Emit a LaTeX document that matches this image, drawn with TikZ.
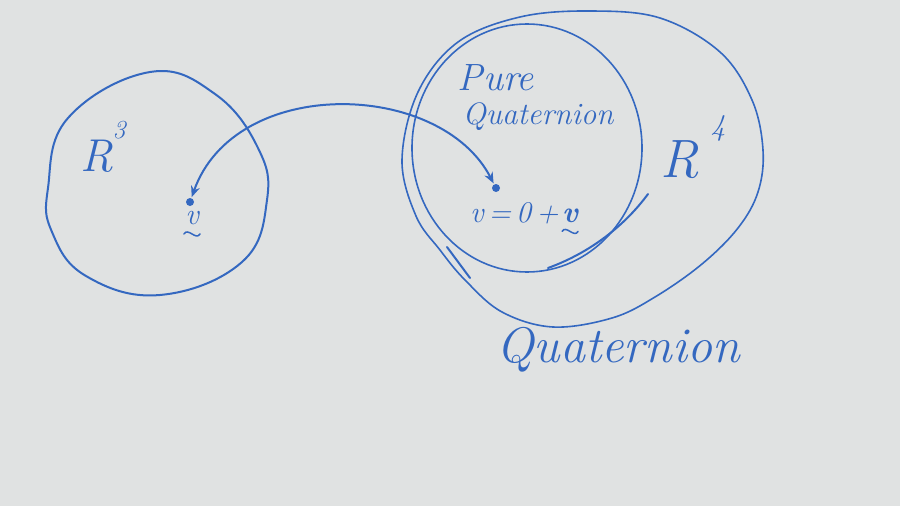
\documentclass[tikz,border=0pt]{standalone}
\usepackage{fontspec}
\usetikzlibrary{arrows.meta,calc}
\definecolor{board}{RGB}{224,226,226}
\definecolor{pen}{RGB}{52,104,192}
\tikzset{
  pen/.style={draw=pen, line width=2pt, line cap=round, line join=round},
  thinpen/.style={draw=pen, line width=1.6pt, line cap=round},
  tildepen/.style={draw=pen, line width=1.5pt, line cap=round},
  dotnode/.style={circle, fill=pen, inner sep=0pt, minimum size=8pt},
  hand/.style={text=pen, inner sep=0pt}
}
\begin{document}
\begin{tikzpicture}[x=1pt,y=-1pt]
\fill[board] (0,0) rectangle (900,506);
\useasboundingbox (0,0) rectangle (900,506);

% R^3 set
\draw[pen] plot[smooth cycle, tension=0.7] coordinates {(48,188) (68,118) (150,72) (215,94) (258,148) (267,200) (242,262) (160,295) (86,276) (52,232)};

% inner circle (pure quaternions)
\draw[thinpen] (527,148) ellipse [x radius=115, y radius=124];

% outer loop (quaternions)
\draw[thinpen] plot[smooth cycle, tension=0.6] coordinates {(402,160) (416,216) (440,250) (465,280) (502,312) (553,327) (612,318) (655,297) (702,264) (738,228) (758,192) (763,150) (752,100) (720,52) (660,18) (590,11) (520,17) (458,42) (418,92)};
\draw[pen] (648,194) .. controls (626,224) and (592,252) .. (548,268);
\draw[pen] (447,247) -- (470,278);

% points and arrow
\node[dotnode] (vL) at (190,202) {};
\node[dotnode] (vR) at (496,188) {};
\draw[pen, {Stealth[length=11pt,width=9pt]}-{Stealth[length=11pt,width=9pt]}, shorten <=1pt, shorten >=1pt]
  (vL) .. controls (235,75) and (440,80) .. (vR);

% labels
\node[hand, font=\fontsize{46}{48}\selectfont\itshape] (r3) at (97,156) {R};
\node[hand, font=\fontsize{26}{28}\selectfont\itshape] (r3e) at (119,130) {3};

\node[hand, font=\fontsize{30}{30}\selectfont\itshape] (vLab) at (192,218) {v};
\draw[tildepen] ($(vLab.south)+(-8,9)$) .. controls ($(vLab.south)+(-4,2)$) and ($(vLab.south)+(4,16)$) .. ($(vLab.south)+(8,9)$);

\node[hand, font=\fontsize{38}{40}\selectfont\itshape] (pure) at (496,78) {Pure};
\node[hand, font=\fontsize{31}{34}\selectfont\itshape] (pq) at (538,117) {Quaternion};

\node[hand, font=\fontsize{30}{30}\selectfont\itshape, anchor=base west] (vEq) at (470,222) {v\,=\,0\,+};
\node[hand, font=\fontsize{30}{30}\selectfont\itshape\bfseries, anchor=base west] (vB) at ($(vEq.base east)+(3,0)$) {v};
\draw[tildepen] ($(vB.south)+(-8,9)$) .. controls ($(vB.south)+(-4,2)$) and ($(vB.south)+(4,16)$) .. ($(vB.south)+(8,9)$);

\node[hand, font=\fontsize{54}{56}\selectfont\itshape] (r4) at (680,160) {R};
\node[hand, font=\fontsize{30}{32}\selectfont\itshape] (r4e) at (718,128) {4};

\node[hand, font=\fontsize{50}{52}\selectfont\itshape] (q) at (618,350) {Quaternion};
\end{tikzpicture}
\end{document}
